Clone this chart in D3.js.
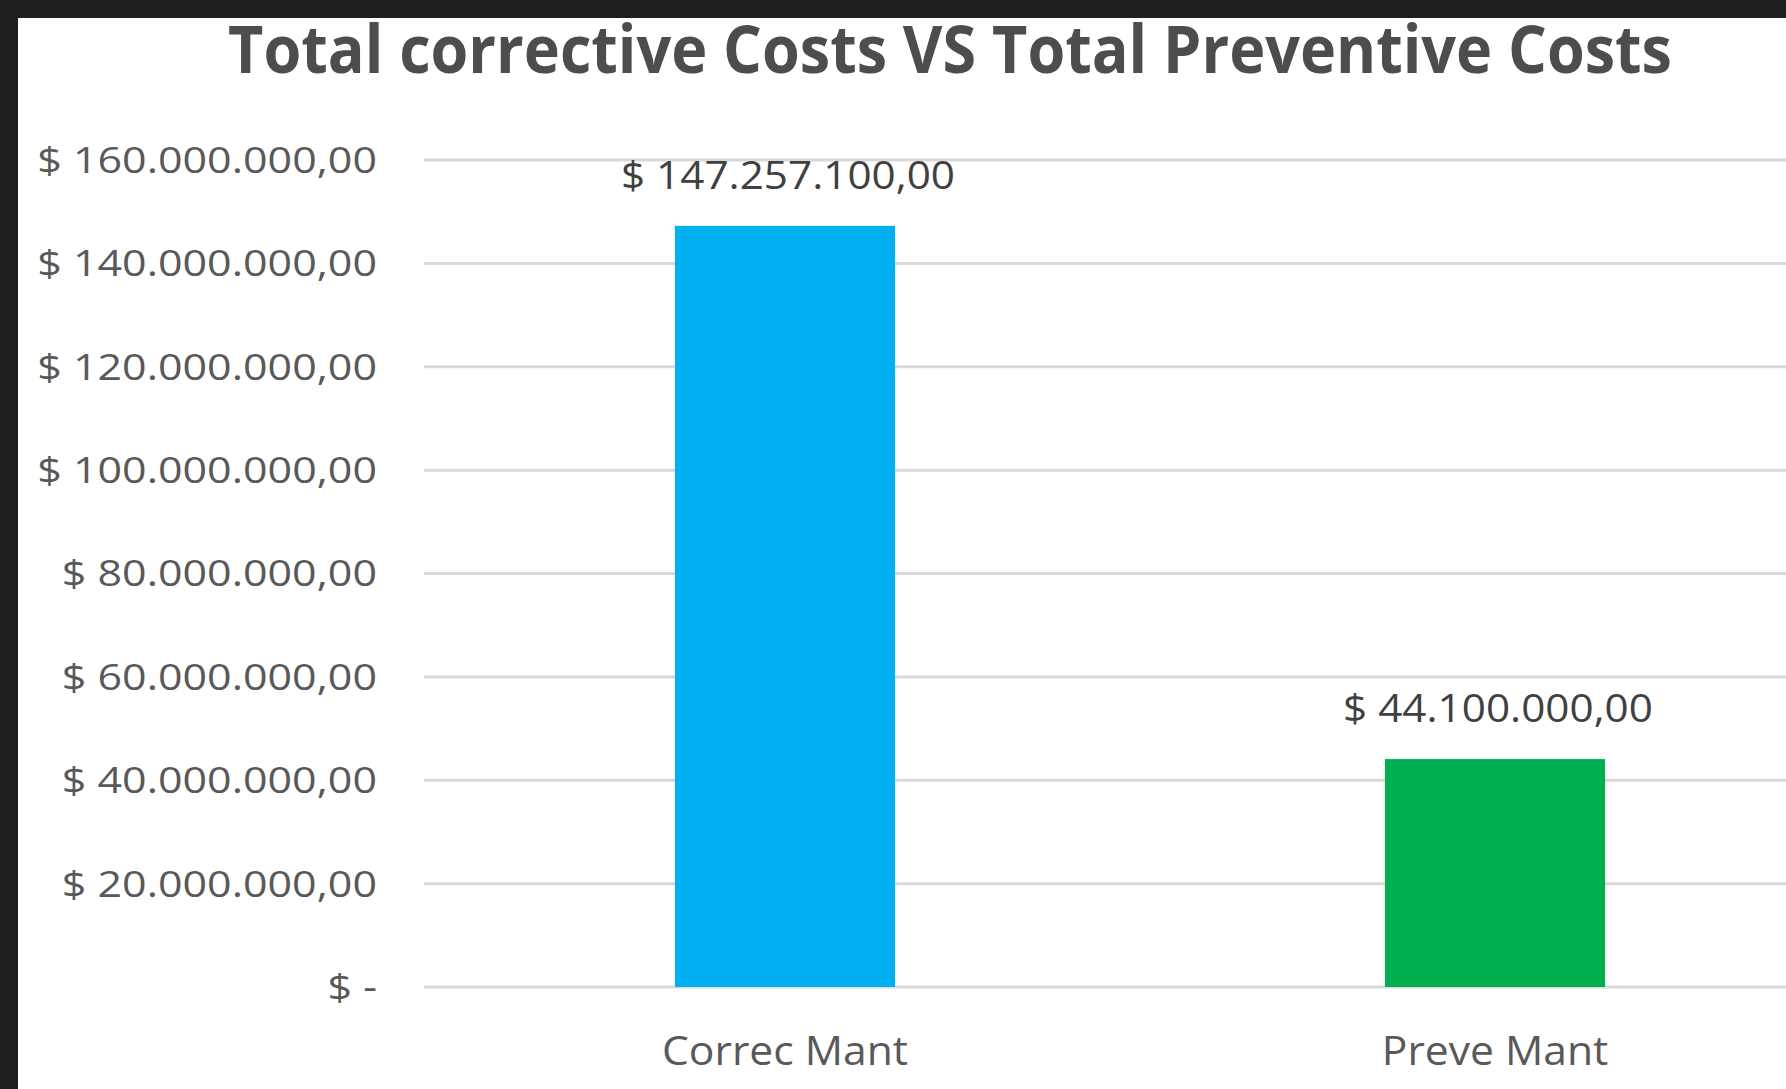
<!DOCTYPE html>
<html>
<head>
<meta charset="utf-8">
<script src="https://cdn.jsdelivr.net/npm/d3@7"></script>
<style>
  html, body { margin: 0; padding: 0; background: #1f1f1f; }
  svg { display: block; }
  text { font-family: "Open Sans", sans-serif; }
</style>
</head>
<body>
<svg id="chart"></svg>
<script>
// chart data
const categories = ['Correc Mant', 'Preve Mant'];
const costs = [147257100, 44100000];
const barColors = ['#00b0f0', '#00b050'];
const yTicks = [0, 20000000, 40000000, 60000000, 80000000, 100000000, 120000000, 140000000, 160000000];
const chartTitle = 'Total corrective Costs VS Total Preventive Costs';

const W = 1786, H = 1089;
const border = 18;
const plot = {left: 424, top: 160, bottom: 987, bandLeft: 430, step: 710};

const locale = d3.formatLocale({decimal: ',', thousands: '.', grouping: [3], currency: ['$ ', '']});
const money = v => v === 0 ? '$ -' : '$ ' + locale.format(',.2f')(v);

const svg = d3.select('#chart').attr('width', W).attr('height', H);

svg.append('rect')
    .attr('x', border).attr('y', border)
    .attr('width', W - border).attr('height', H - border)
    .attr('fill', '#ffffff');

const x = d3.scaleBand()
    .domain(categories)
    .range([plot.bandLeft, plot.bandLeft + plot.step * 2])
    .paddingInner(0.69)
    .paddingOuter(0.345);

const y = d3.scaleLinear()
    .domain([0, 160000000])
    .range([plot.bottom, plot.top]);

// squeeze/stretch text horizontally so it takes the width seen in the picture
function fitText(sel, refWidth) {
    let sx = 1;
    sel.each(function (d, i) {
        if (i === 0) sx = refWidth / this.getComputedTextLength();
    });
    sel.attr('transform', function () {
        const t = d3.select(this);
        return `translate(${t.attr('data-x')},${t.attr('data-y')}) scale(${sx},1)`;
    });
}

// gridlines
const grid = svg.append('g').attr('class', 'grid');
grid.selectAll('line')
    .data(yTicks)
    .join('line')
    .attr('x1', plot.left).attr('x2', W)
    .attr('y1', d => y(d)).attr('y2', d => y(d))
    .attr('stroke', '#d9d9d9')
    .attr('stroke-width', 3);

// y axis labels
const yAxisG = svg.append('g').attr('class', 'axis y-axis');
const yLabels = yAxisG.selectAll('text')
    .data(yTicks.slice().reverse())
    .join('text')
    .attr('data-x', 377)
    .attr('data-y', d => y(d))
    .attr('dy', '0.36em')
    .attr('text-anchor', 'end')
    .attr('font-size', 36)
    .attr('fill', '#595959')
    .text(d => money(d));
fitText(yLabels, 340);

// bars
const data = categories.map((c, i) => ({key: c, value: costs[i], color: barColors[i]}));
svg.selectAll('.bar')
    .data(data)
    .join('rect')
    .attr('class', 'bar')
    .attr('x', d => x(d.key))
    .attr('width', x.bandwidth())
    .attr('y', d => y(d.value))
    .attr('height', d => y(0) - y(d.value))
    .attr('fill', d => d.color);

// value labels
const valLabels = svg.selectAll('.val')
    .data(data.slice().reverse())
    .join('text')
    .attr('class', 'val')
    .attr('data-x', d => x(d.key) + x.bandwidth() / 2 + 3)
    .attr('data-y', d => y(d.value) - 37)
    .attr('text-anchor', 'middle')
    .attr('font-size', 39)
    .attr('fill', '#404040')
    .text(d => money(d.value));
fitText(valLabels, 310);

// category labels
const catLabels = svg.selectAll('.cat')
    .data(categories)
    .join('text')
    .attr('class', 'cat')
    .attr('data-x', d => x(d) + x.bandwidth() / 2)
    .attr('data-y', 1065)
    .attr('text-anchor', 'middle')
    .attr('font-size', 41)
    .attr('fill', '#595959')
    .text(d => d);
fitText(catLabels, 246);

// title
const title = svg.append('text')
    .attr('data-x', 950)
    .attr('data-y', 73)
    .attr('text-anchor', 'middle')
    .attr('font-size', 67)
    .attr('font-weight', 'bold')
    .attr('fill', '#4d4d4d')
    .text(chartTitle);
fitText(title, 1444);
</script>
</body>
</html>
